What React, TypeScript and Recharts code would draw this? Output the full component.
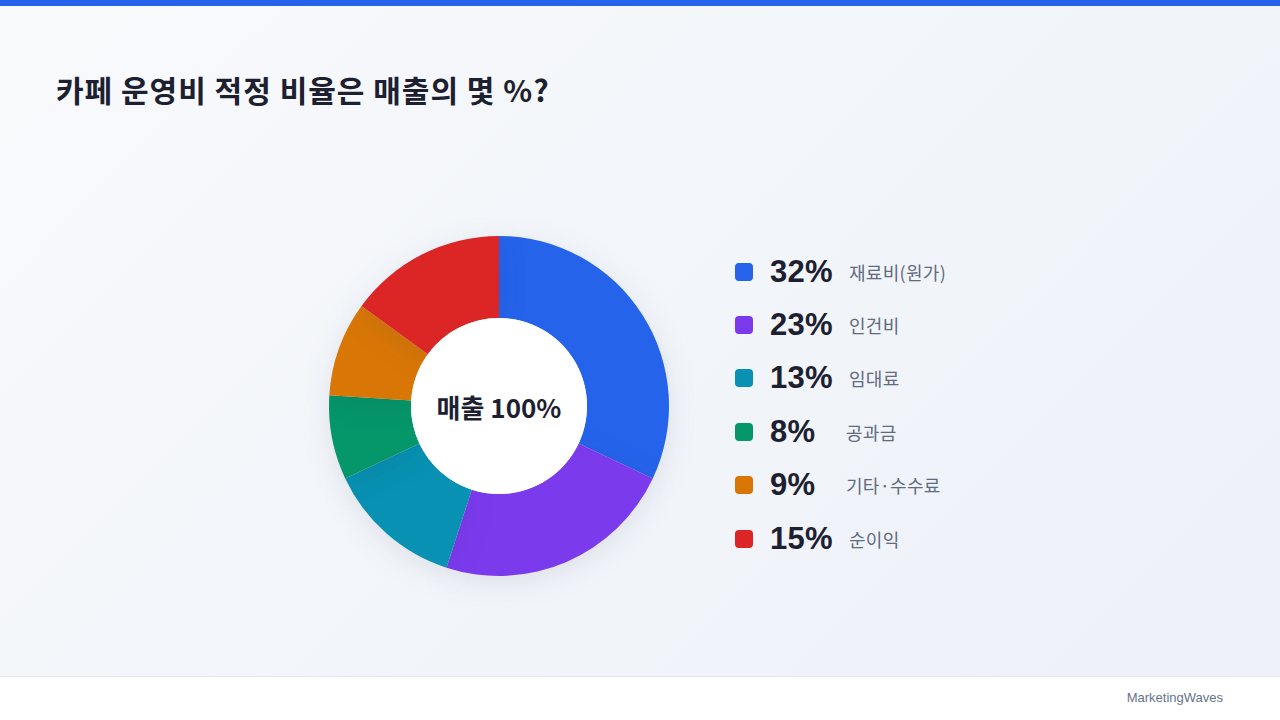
import { PieChart, Pie, Cell, Legend } from 'recharts';

const categories = ['재료비(원가)', '인건비', '임대료', '공과금', '기타·수수료', '순이익'];
const shares = [32, 23, 13, 8, 9, 15];
const colors = ['#2563EB', '#7C3AED', '#0891B2', '#059669', '#D97706', '#DC2626'];
const totalLabel = '매출';
const totalValue = 100;

const sliceData = categories.map((name, i) => ({ name, value: shares[i] }));
const centerData = [{ name: totalLabel, value: totalValue }];

const KR = '"Noto Sans CJK KR", "Noto Sans", sans-serif';
const NUM = '"Liberation Sans", Arial, sans-serif';

const LegendList = () => (
  <div style={{ display: 'flex', flexDirection: 'column' }}>
    {sliceData.map((d, i) => (
      <div key={d.name} style={{ display: 'flex', alignItems: 'center', height: 53.4 }}>
        <span
          style={{ width: 18, height: 18, borderRadius: 4, background: colors[i], flexShrink: 0, marginRight: 17 }}
        />
        <span
          style={{
            minWidth: 60,
            fontFamily: NUM,
            fontWeight: 700,
            fontSize: 31,
            color: '#1C2030',
            marginRight: 16,
            letterSpacing: 0.3,
          }}
        >
          {d.value}%
        </span>
        <span style={{ fontFamily: KR, fontSize: 18, color: '#5F6B80', letterSpacing: 0.3 }}>{d.name}</span>
      </div>
    ))}
  </div>
);

export default function App() {
  return (
    <div
      style={{
        position: 'fixed',
        left: 0,
        top: 0,
        width: 1280,
        height: 720,
        overflow: 'hidden',
        background: 'linear-gradient(135deg, #F8FAFC 0%, #F1F4F9 60%, #EDF0F8 100%)',
      }}
    >
      <div style={{ position: 'absolute', left: 0, top: 0, width: 1280, height: 6, background: '#2563EB' }} />
      <div
        style={{
          position: 'absolute',
          left: 56,
          top: 67,
          fontFamily: KR,
          fontWeight: 700,
          fontSize: 30,
          color: '#1C2030',
          letterSpacing: 1,
        }}
      >
        카페 운영비 적정 비율은 매출의 몇 %?
      </div>

      <div style={{ position: 'absolute', left: 0, top: 0 }}>
        <PieChart width={1280} height={676} margin={{ top: 0, right: 0, bottom: 0, left: 0 }}>
          <Pie
            data={sliceData}
            dataKey="value"
            nameKey="name"
            cx={499}
            cy={406}
            innerRadius={88}
            outerRadius={170}
            startAngle={90}
            endAngle={-270}
            stroke="none"
            isAnimationActive={false}
            style={{ filter: 'drop-shadow(0 6px 14px rgba(30, 41, 80, 0.10))' }}
          >
            {sliceData.map((d, i) => (
              <Cell key={d.name} fill={colors[i]} />
            ))}
          </Pie>
          <Pie
            data={centerData}
            dataKey="value"
            cx={499}
            cy={406}
            innerRadius={0}
            outerRadius={88}
            fill="#FFFFFF"
            stroke="none"
            isAnimationActive={false}
            label={({ cx, cy }: any) => (
              <text
                x={cx}
                y={cy}
                textAnchor="middle"
                dominantBaseline="central"
                fontFamily={KR}
                fontWeight={700}
                fontSize={26}
                fill="#1C2030"
              >
                {`${totalLabel} ${totalValue}%`}
              </text>
            )}
            labelLine={false}
          />
          <Legend
            content={<LegendList />}
            wrapperStyle={{ position: 'absolute', left: 735, top: 245, width: 300 }}
          />
        </PieChart>
      </div>

      <div
        style={{
          position: 'absolute',
          left: 0,
          top: 676,
          width: 1280,
          height: 44,
          background: '#FFFFFF',
          borderTop: '1px solid #E2E8F0',
          boxSizing: 'border-box',
        }}
      >
        <div
          style={{
            position: 'absolute',
            right: 57,
            top: 13,
            fontFamily: NUM,
            fontSize: 13,
            color: '#64748B',
          }}
        >
          MarketingWaves
        </div>
      </div>
    </div>
  );
}
